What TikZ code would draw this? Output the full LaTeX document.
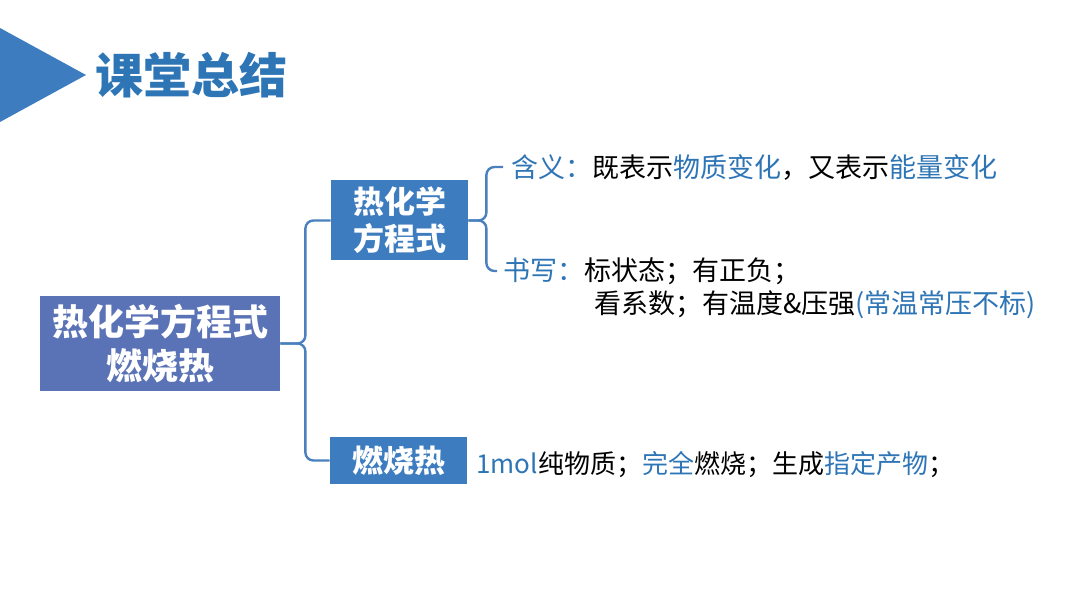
\documentclass[tikz,border=0pt]{standalone}
\usepackage{fontspec}
\setmainfont{Noto Sans CJK SC}
\usepackage{tikz}
\usetikzlibrary{positioning}

\definecolor{boxblue}{HTML}{3D7DBF}
\definecolor{slateblue}{HTML}{5A72B6}
\definecolor{txtblue}{HTML}{2E75B6}
\definecolor{lineblue}{HTML}{4A80BE}

\newcommand{\hl}[1]{\textcolor{txtblue}{#1}}

\begin{document}
\begin{tikzpicture}[
            x=0.5pt, y=-0.5pt,
            topbox/.style={fill=slateblue, text=white, font=\fontsize{18}{22}\selectfont\bfseries,
                           minimum width=120pt, minimum height=47.5pt, align=center, inner sep=0pt},
            subbox/.style={fill=boxblue, text=white, font=\fontsize{15.5}{18.5}\selectfont\bfseries,
                           minimum width=68.5pt, align=center, inner sep=0pt},
            note/.style={anchor=west, font=\fontsize{13.5}{16}\selectfont, inner sep=3pt},
            conn/.style={draw=lineblue, line width=1.2pt, rounded corners=4pt}
        ]
        \path[use as bounding box] (0,0) rectangle (1080,608);

        % Title
        \fill[boxblue] (0,28) -- (86,75) -- (0,122) -- cycle;
        \node[anchor=west, text=txtblue, font=\fontsize{24}{28}\selectfont\bfseries, inner sep=0pt]
            (title) at (95,75) {课堂总结};

        % Boxes
        \node[topbox] (main) at (160,343.5) {热化学方程式\\燃烧热};
        \node[subbox, minimum height=40pt] (eqn) at (399.5,220.5) {热化学\\方程式};
        \node[subbox, minimum height=23.5pt] (heat) at (398.5,460.5) {燃烧热};

        % Notes
        \node[note, inner sep=4pt] (mean) at (503,167)
            {\hl{含义：}既表示\hl{物质变化}，又表示\hl{能量变化}};
        \node[note] (write) at (497,271) {\hl{书写：}标状态；有正负；};
        \node[note] (write2) at (588,305) {看系数；有温度\&压强\hl{(常温常压不标)}};
        \node[note, font=\fontsize{13}{16}\selectfont] (fire) at (470,465)
            {\hl{1mol}纯物质；\hl{完全}燃烧；生成\hl{指定产物}；};

        % Connectors
        \draw[conn] (main.east) -- ++(25,0) |- (eqn.west);
        \draw[conn] (main.east) -- ++(25,0) |- (heat.west);
        \draw[conn] (eqn.east) -- ++(18,0) |- (mean.west);
        \draw[conn] (eqn.east) -- ++(18,0) |- (write.west);
    \end{tikzpicture}
\end{document}
